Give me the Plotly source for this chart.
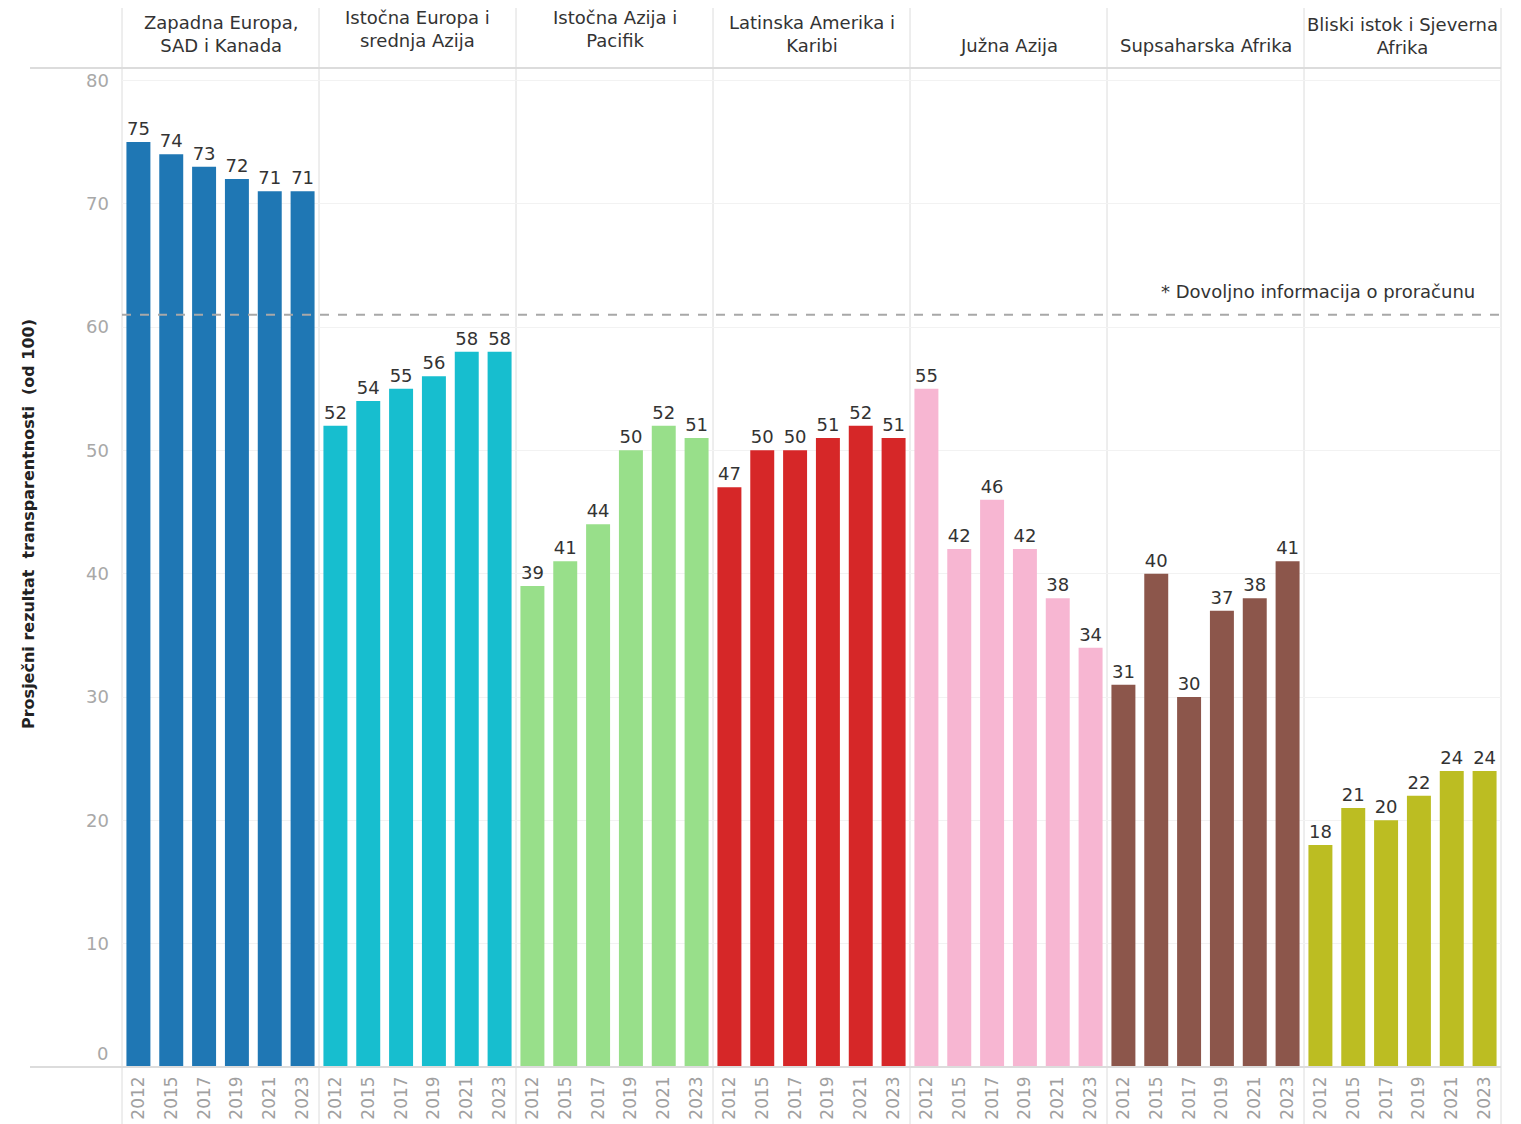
import plotly.graph_objects as go
from plotly.subplots import make_subplots

regions = [
    "Zapadna Europa,<br>SAD i Kanada",
    "Istočna Europa i<br>srednja Azija",
    "Istočna Azija i<br>Pacifik",
    "Latinska Amerika i<br>Karibi",
    "Južna Azija",
    "Supsaharska Afrika",
    "Bliski istok i Sjeverna<br>Afrika",
]
years = ["2012", "2015", "2017", "2019", "2021", "2023"]
west_europe = [75, 74, 73, 72, 71, 71]
east_europe = [52, 54, 55, 56, 58, 58]
east_asia = [39, 41, 44, 50, 52, 51]
latin_america = [47, 50, 50, 51, 52, 51]
south_asia = [55, 42, 46, 42, 38, 34]
subsaharan = [31, 40, 30, 37, 38, 41]
mena = [18, 21, 20, 22, 24, 24]
series = [west_europe, east_europe, east_asia, latin_america, south_asia, subsaharan, mena]
colors = ["#1f77b4", "#17becf", "#98df8a", "#d62728", "#f7b6d2", "#8c564b", "#bcbd22"]
threshold = 61
yticks = [10, 20, 30, 40, 50, 60, 70, 80]

n = len(regions)
fig = make_subplots(rows=1, cols=n, shared_yaxes=True, horizontal_spacing=0)

FONT = "DejaVu Sans"
for i, (vals, col) in enumerate(zip(series, colors)):
    fig.add_trace(go.Bar(
        x=years, y=vals, marker_color=col, marker_line_width=0,
        text=[str(v) for v in vals], textposition="outside",
        textfont=dict(color="#333333", size=18, family=FONT),
        cliponaxis=False, showlegend=False,
    ), row=1, col=i + 1)
    fig.update_xaxes(
        type="category", tickangle=-90, showgrid=False, zeroline=False,
        tickfont=dict(color="#a0a0a0", size=17, family=FONT),
        ticks="", showline=False, ticklabelstandoff=5, automargin=False,
        row=1, col=i + 1,
    )

fig.update_yaxes(range=[0, 81], tickvals=yticks, showgrid=True, gridcolor="#f2f2f2",
                 zeroline=False, showline=False, automargin=False,
                 tickfont=dict(color="#a8a8a8", size=18, family=FONT),
                 ticklabelstandoff=12)

# page body has an 8px margin: compensate so the plot area lands at x 122-1501, y 68-1067
fig.update_layout(
    width=1505, height=1116,
    margin=dict(l=114, r=12, t=60, b=57),
    plot_bgcolor="white", paper_bgcolor="white",
    bargap=0.27,
    font=dict(family=FONT),
)

# Zero label shifted above baseline
fig.add_annotation(x=0, y=0, xref="paper", yref="y", text="0", showarrow=False,
                   xanchor="right", yanchor="bottom", xshift=-12, yshift=1,
                   font=dict(color="#a8a8a8", size=18, family=FONT))

# Panel headers
header_shift = [4, 9, 9, 4, 4, 4, 2]
for i, name in enumerate(regions):
    fig.add_annotation(
        x=(i + 0.5) / n, y=1.006, xref="paper", yref="paper",
        text=name, showarrow=False, xanchor="center", yanchor="bottom",
        yshift=header_shift[i],
        font=dict(size=18, color="#333333", family=FONT),
    )

# Separators
left_ext = (30 - 122) / 1379
for i in range(n + 1):
    fig.add_shape(type="line", xref="paper", yref="paper",
                  x0=i / n, x1=i / n, y0=-0.06, y1=1.07,
                  line=dict(color="#dcdcdc", width=1), layer="below")
fig.add_shape(type="line", xref="paper", yref="paper", x0=left_ext, x1=1,
              y0=1, y1=1, line=dict(color="#dcdcdc", width=2))
fig.add_shape(type="line", xref="paper", yref="paper", x0=left_ext, x1=1,
              y0=0, y1=0, line=dict(color="#dcdcdc", width=2))

# Threshold line
fig.add_shape(type="line", xref="paper", yref="y", x0=0, x1=1,
              y0=threshold, y1=threshold,
              line=dict(color="#a8a8a8", width=2, dash="dash"))
fig.add_annotation(x=(1477 - 122) / 1379, y=threshold + 0.9, xref="paper", yref="y",
                   text="* Dovoljno informacija o proračunu", showarrow=False,
                   xanchor="right", yanchor="bottom",
                   font=dict(size=18, color="#333333", family=FONT))

# Y axis title
fig.add_annotation(x=(28 - 122) / 1379, y=(1067 - 524) / 999, xref="paper", yref="paper",
                   text="<b>Prosječni rezultat  transparentnosti  (od 100)</b>",
                   textangle=-90, showarrow=False, xanchor="center", yanchor="middle",
                   font=dict(size=16, color="#222222", family=FONT))

fig.write_html("out.html")
